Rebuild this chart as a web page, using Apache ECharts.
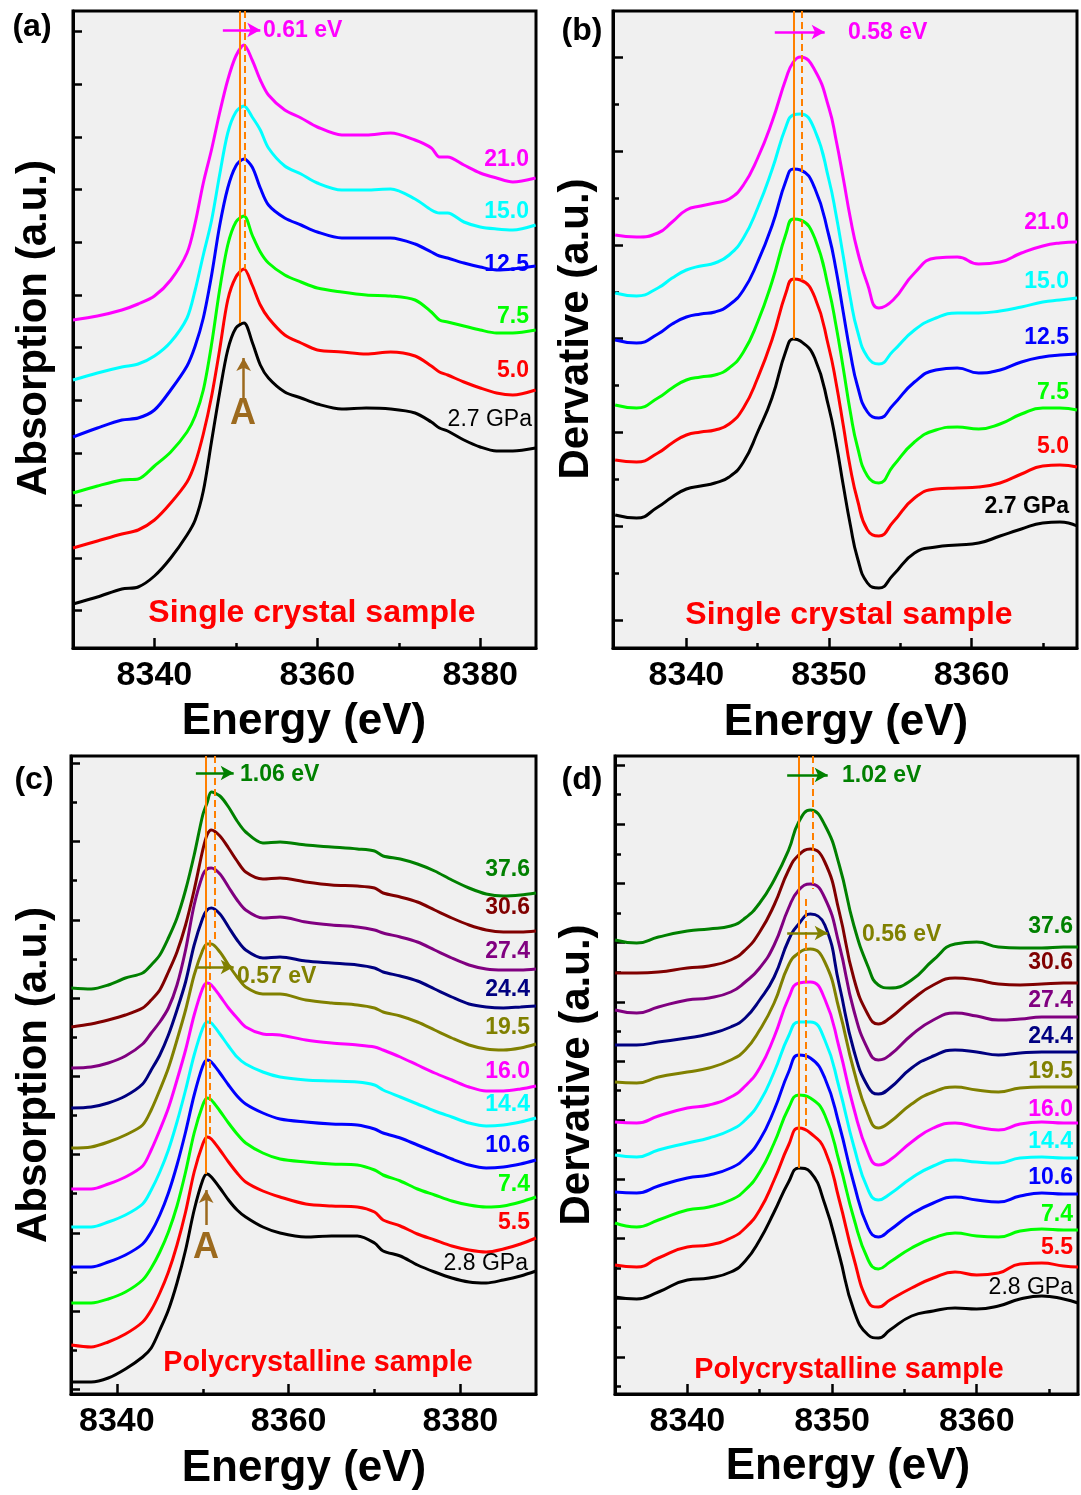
<!DOCTYPE html>
<html>
<head>
<meta charset="utf-8">
<script src="https://cdn.jsdelivr.net/npm/echarts@6/dist/echarts.min.js"></script>
<style>
html,body{margin:0;padding:0;background:#fff;}
#main{width:1081px;height:1495px;}
</style>
</head>
<body>
<div id="main"></div>
<script>
// ---------- data (a.u.) ----------

// (a) single crystal, absorption
const energyA = [8330, 8333, 8336, 8338, 8340, 8342, 8344, 8345, 8346, 8347, 8348, 8349, 8350, 8351, 8352, 8353, 8354, 8356, 8358, 8360, 8363, 8366, 8369, 8372, 8374, 8375, 8376, 8378, 8380, 8382, 8384, 8386.8];
const absA_2_7 = [4.4, 5.1, 5.9, 6.1, 7.2, 9.0, 11.3, 12.8, 15.7, 20.6, 25.5, 29.8, 32.0, 32.5, 30.6, 28.3, 27.0, 25.6, 25.0, 24.4, 23.9, 24.0, 23.9, 23.5, 22.6, 22.0, 21.7, 20.8, 20.1, 19.7, 19.7, 20.0];
const absA_5_0 = [10.0, 10.7, 11.4, 11.8, 12.8, 14.5, 16.6, 18.5, 21.4, 25.1, 29.8, 34.8, 37.1, 37.9, 36.3, 34.3, 33.0, 31.3, 30.5, 29.8, 29.6, 29.4, 29.6, 29.2, 28.2, 27.6, 27.3, 26.6, 26.0, 25.5, 25.3, 25.8];
const absA_7_5 = [15.5, 16.2, 16.8, 16.9, 18.2, 19.6, 21.6, 23.2, 25.8, 30.3, 35.8, 40.3, 42.6, 43.2, 41.3, 39.6, 38.5, 37.3, 36.6, 36.0, 35.6, 35.3, 35.2, 34.8, 33.6, 32.8, 32.6, 32.2, 31.8, 31.5, 31.5, 31.8];
const absA_12_5 = [21.1, 22.0, 22.8, 23.0, 23.8, 25.8, 28.2, 30.2, 33.0, 37.2, 42.2, 46.0, 48.2, 48.9, 48.1, 46.0, 44.3, 43.0, 42.3, 41.6, 41.0, 41.0, 41.0, 40.4, 39.6, 39.2, 39.0, 38.5, 38.1, 37.8, 37.9, 38.2];
const absA_15_0 = [26.8, 27.5, 28.1, 28.4, 29.2, 30.6, 33.0, 35.8, 39.3, 42.7, 47.3, 51.5, 53.6, 54.2, 53.1, 51.8, 50.0, 48.2, 47.4, 46.5, 45.8, 45.8, 45.9, 44.9, 43.8, 43.5, 43.5, 42.6, 42.1, 41.9, 41.8, 42.3];
const absA_21_0 = [32.8, 33.2, 33.8, 34.4, 35.2, 36.8, 39.5, 42.5, 46.5, 49.8, 53.5, 56.8, 59.2, 60.3, 58.8, 56.8, 55.3, 53.8, 53.0, 52.1, 51.3, 51.3, 51.5, 50.8, 50.0, 49.1, 49.1, 48.3, 47.5, 47.0, 46.6, 47.0];
const pressA = ['2.7 GPa', '5.0', '7.5', '12.5', '15.0', '21.0'];

// (b) single crystal, derivative
const energyB = [8335, 8336.5, 8338, 8339, 8340, 8341, 8342, 8343, 8344, 8345, 8346, 8347, 8347.5, 8348, 8349, 8350, 8350.5, 8351, 8351.5, 8352, 8352.7, 8353.5, 8354.5, 8356, 8357.5, 8359, 8360.5, 8362, 8363.5, 8365, 8366.2, 8367.4];
const derB_2_7 = [13.3, 13.0, 14.1, 15.1, 15.9, 16.2, 16.5, 17.1, 18.6, 21.6, 25.0, 29.8, 30.9, 30.7, 29.0, 24.0, 20.5, 16.3, 12.3, 9.0, 6.5, 6.0, 7.3, 9.5, 10.1, 10.3, 10.5, 11.2, 11.9, 12.5, 12.6, 12.2];
const derB_5_0 = [18.8, 18.6, 19.5, 20.5, 21.3, 21.6, 21.8, 22.4, 24.0, 27.0, 30.8, 35.6, 36.9, 36.8, 35.1, 30.0, 26.5, 22.3, 18.0, 14.8, 11.8, 11.2, 12.6, 15.0, 15.9, 16.0, 16.1, 16.5, 17.4, 18.2, 18.3, 18.1];
const derB_7_5 = [24.3, 24.0, 25.0, 26.0, 26.8, 27.1, 27.3, 28.0, 29.6, 32.6, 36.6, 41.5, 42.9, 42.8, 41.0, 35.8, 32.2, 28.0, 23.6, 20.1, 17.2, 16.5, 18.2, 20.6, 21.8, 22.1, 21.9, 22.4, 23.4, 24.0, 24.0, 23.8];
const derB_12_5 = [30.8, 30.5, 31.4, 32.4, 33.1, 33.4, 33.6, 34.3, 35.8, 38.6, 42.2, 46.8, 47.9, 47.8, 46.0, 41.2, 37.8, 33.6, 29.5, 26.2, 23.6, 23.0, 24.3, 26.6, 27.8, 28.0, 27.5, 27.8, 28.6, 29.1, 29.3, 29.4];
const derB_15_0 = [35.5, 35.2, 36.0, 37.0, 37.8, 38.2, 38.5, 39.3, 41.0, 44.0, 47.8, 52.2, 53.3, 53.4, 51.8, 46.8, 43.3, 39.2, 35.0, 31.7, 29.1, 28.4, 29.7, 31.8, 33.0, 33.5, 33.5, 33.7, 34.1, 34.6, 34.8, 35.0];
const derB_21_0 = [41.3, 41.1, 41.5, 42.6, 43.8, 44.2, 44.5, 44.9, 46.3, 49.0, 52.6, 57.0, 58.6, 59.1, 57.8, 54.0, 50.8, 47.0, 43.0, 39.7, 36.4, 34.0, 34.8, 37.5, 39.0, 39.1, 38.4, 38.6, 39.5, 40.2, 40.5, 40.6];
const pressB = ['2.7 GPa', '5.0', '7.5', '12.5', '15.0', '21.0'];

// (c) polycrystalline, absorption
const energyC = [8334.7, 8337, 8339, 8341, 8343, 8344, 8345, 8346, 8347, 8348, 8349, 8350, 8350.5, 8351, 8352, 8353, 8354, 8355, 8357, 8359, 8362, 8365, 8368, 8370, 8371, 8373, 8375, 8377, 8379, 8381, 8383, 8385, 8387, 8388.8];
const absC_2_8 = [1.2, 1.2, 1.6, 2.5, 3.7, 4.6, 6.4, 8.4, 11.1, 14.4, 18.4, 21.4, 22.0, 21.7, 20.6, 19.4, 18.4, 17.7, 16.7, 16.1, 15.7, 15.8, 15.8, 15.1, 14.3, 13.8, 12.9, 12.2, 11.6, 11.2, 11.1, 11.4, 11.8, 12.3];
const absC_5_5 = [4.9, 4.7, 5.2, 6.0, 7.2, 8.4, 10.1, 12.2, 14.9, 18.2, 22.2, 25.0, 25.7, 25.5, 24.4, 23.2, 22.1, 21.2, 20.3, 19.7, 19.0, 18.8, 18.7, 18.2, 17.4, 16.8, 16.0, 15.4, 14.8, 14.4, 14.2, 14.5, 15.0, 15.6];
const absC_7_4 = [9.1, 9.1, 9.5, 10.2, 11.4, 12.6, 14.2, 16.2, 18.8, 22.2, 26.1, 28.9, 29.6, 29.4, 28.3, 27.1, 26.0, 25.1, 24.1, 23.5, 23.2, 23.0, 22.9, 22.4, 21.9, 21.3, 20.5, 19.9, 19.3, 18.9, 18.7, 18.8, 19.2, 19.7];
const absC_10_6 = [12.7, 12.7, 13.2, 13.9, 15.0, 16.2, 17.9, 20.1, 22.9, 26.2, 29.9, 32.8, 33.4, 33.2, 32.1, 30.9, 29.8, 29.0, 28.1, 27.5, 27.2, 27.0, 26.9, 26.5, 26.1, 25.6, 24.9, 24.2, 23.5, 22.9, 22.6, 22.7, 23.0, 23.4];
const absC_14_4 = [16.7, 16.7, 17.2, 17.9, 19.0, 20.4, 22.2, 24.4, 27.2, 30.4, 33.9, 36.6, 37.2, 37.1, 36.0, 34.8, 33.7, 33.0, 32.2, 31.7, 31.4, 31.3, 31.2, 30.9, 30.4, 29.7, 29.0, 28.3, 27.7, 27.1, 26.8, 26.9, 27.2, 27.6];
const absC_16_0 = [20.5, 20.5, 21.0, 21.7, 22.8, 24.4, 26.4, 28.6, 31.4, 34.4, 37.9, 40.6, 41.1, 40.9, 39.8, 38.6, 37.6, 36.7, 36.0, 35.9, 35.4, 35.1, 34.9, 34.7, 34.4, 33.7, 32.9, 32.1, 31.4, 30.7, 30.3, 30.3, 30.5, 30.8];
const absC_19_5 = [24.6, 24.7, 25.2, 25.9, 26.9, 28.4, 30.4, 32.6, 35.4, 38.4, 41.9, 44.4, 45.0, 45.0, 44.2, 42.9, 41.7, 40.7, 40.0, 40.0, 39.4, 39.1, 38.9, 38.6, 38.2, 37.8, 37.2, 36.4, 35.6, 34.9, 34.5, 34.4, 34.6, 35.0];
const absC_24_4 = [28.6, 28.7, 29.1, 29.8, 31.0, 32.4, 33.9, 35.9, 38.4, 41.2, 44.9, 47.6, 48.4, 48.6, 48.0, 46.7, 45.4, 44.4, 43.6, 43.7, 43.3, 43.1, 42.9, 42.6, 42.2, 41.8, 41.3, 40.5, 39.7, 39.0, 38.7, 38.6, 38.7, 38.8];
const absC_27_4 = [32.6, 32.7, 33.1, 33.8, 35.0, 36.1, 37.2, 38.6, 40.9, 44.4, 48.9, 51.9, 52.5, 52.6, 52.0, 50.7, 49.4, 48.4, 47.6, 47.7, 47.2, 46.9, 46.7, 46.4, 46.1, 45.7, 45.2, 44.4, 43.6, 42.9, 42.5, 42.4, 42.4, 42.5];
const absC_30_6 = [36.7, 37.0, 37.4, 37.9, 38.6, 39.4, 40.4, 42.2, 44.2, 46.9, 50.4, 54.4, 55.9, 56.4, 55.8, 54.6, 53.3, 52.2, 51.5, 51.6, 51.2, 50.9, 50.8, 50.6, 50.1, 49.7, 49.2, 48.4, 47.6, 46.9, 46.4, 46.2, 46.2, 46.3];
const absC_37_6 = [40.6, 40.5, 40.9, 41.6, 42.1, 42.9, 43.9, 45.6, 47.6, 50.4, 53.9, 57.9, 59.1, 60.2, 59.8, 58.7, 57.3, 56.2, 55.1, 55.2, 54.9, 54.7, 54.5, 54.3, 53.8, 53.5, 53.0, 52.3, 51.4, 50.6, 50.0, 49.8, 49.9, 50.1];
const pressC = ['2.8 GPa', '5.5', '7.4', '10.6', '14.4', '16.0', '19.5', '24.4', '27.4', '30.6', '37.6'];

// (d) polycrystalline, derivative
const energyD = [8335, 8336.5, 8338, 8340, 8341.5, 8343, 8344, 8345, 8346, 8347, 8347.7, 8348.5, 8349.5, 8350.5, 8351.5, 8352.5, 8353.2, 8354, 8355.5, 8357, 8358.5, 8360, 8361.5, 8363, 8364.5, 8366, 8367];
const derD_2_8 = [9.7, 9.5, 10.2, 11.4, 11.6, 12.2, 13.3, 15.4, 18.2, 21.2, 22.6, 22.2, 19.0, 13.9, 8.4, 5.9, 5.6, 6.4, 7.8, 8.3, 8.6, 8.5, 8.8, 9.5, 9.8, 9.5, 9.1];
const derD_5_5 = [12.9, 12.7, 13.6, 14.7, 14.9, 15.6, 16.6, 18.4, 21.4, 24.9, 26.6, 26.1, 24.4, 19.4, 13.6, 9.2, 8.7, 9.4, 10.6, 11.6, 12.2, 11.9, 12.1, 13.0, 13.1, 12.8, 12.7];
const derD_7_4 = [17.1, 16.7, 17.4, 18.4, 18.7, 19.4, 20.4, 22.2, 25.1, 28.6, 29.9, 29.6, 27.9, 23.2, 17.6, 13.4, 12.5, 13.2, 14.6, 15.6, 16.1, 15.8, 15.7, 16.3, 16.5, 16.4, 16.4];
const derD_10_6 = [20.2, 20.1, 20.8, 21.6, 21.9, 22.6, 23.6, 25.4, 28.4, 32.2, 33.9, 33.6, 31.6, 26.9, 21.1, 16.6, 15.7, 16.4, 18.0, 19.1, 19.7, 19.4, 19.2, 19.8, 20.1, 20.0, 20.0];
const derD_14_4 = [23.9, 23.7, 24.4, 25.1, 25.6, 26.4, 27.4, 29.2, 32.2, 35.8, 37.2, 37.2, 35.4, 30.6, 24.8, 20.4, 19.4, 20.0, 21.6, 22.8, 23.4, 23.2, 23.1, 23.6, 23.7, 23.6, 23.6];
const derD_16_0 = [27.2, 27.1, 27.8, 28.6, 28.9, 29.7, 30.8, 32.6, 35.7, 39.6, 41.1, 41.2, 39.5, 34.6, 28.6, 24.1, 22.9, 23.4, 25.2, 26.6, 27.1, 26.7, 26.4, 27.0, 27.2, 27.1, 27.1];
const derD_19_5 = [31.2, 31.1, 31.7, 32.2, 32.6, 33.4, 34.4, 36.4, 39.1, 42.9, 44.1, 44.5, 43.2, 38.4, 32.4, 27.9, 26.6, 27.2, 29.0, 30.2, 30.7, 30.4, 30.2, 30.6, 30.7, 30.7, 30.7];
const derD_24_4 = [34.9, 34.9, 35.2, 35.6, 36.0, 36.7, 37.6, 39.4, 41.7, 45.4, 47.0, 48.0, 46.9, 40.9, 34.4, 30.7, 30.0, 30.6, 32.6, 33.8, 34.4, 34.2, 33.9, 34.1, 34.2, 34.2, 34.2];
const derD_27_4 = [38.4, 38.1, 38.7, 39.4, 39.6, 40.2, 41.2, 42.6, 44.9, 48.6, 50.4, 51.0, 49.6, 44.9, 38.4, 34.4, 33.4, 33.9, 35.9, 37.4, 38.1, 37.8, 37.4, 37.5, 37.7, 37.7, 37.7];
const derD_30_6 = [42.1, 42.1, 42.2, 42.6, 42.8, 43.4, 44.4, 46.2, 48.9, 52.4, 53.9, 54.5, 53.2, 48.2, 41.6, 37.9, 37.0, 37.6, 39.4, 40.9, 41.6, 41.4, 41.0, 40.9, 41.0, 41.1, 41.1];
const derD_37_6 = [45.4, 45.1, 45.7, 46.3, 46.5, 46.8, 47.6, 49.1, 51.4, 54.4, 57.2, 58.4, 56.9, 52.9, 46.9, 42.7, 40.9, 40.6, 41.4, 43.4, 45.0, 45.2, 44.7, 44.6, 44.6, 44.7, 44.7];
const pressD = ['2.8 GPa', '5.5', '7.4', '10.6', '14.4', '16.0', '19.5', '24.4', '27.4', '30.6', '37.6'];

// tick values
const xTicksA = [8340, 8360, 8380], xMinorA = [8350, 8370];
const xTicksB = [8340, 8350, 8360], xMinorB = [8345, 8355, 8365];
const xTicksC = [8340, 8360, 8380], xMinorC = [8350, 8370];
const xTicksD = [8340, 8350, 8360], xMinorD = [8345, 8355, 8365];
const yTicksA = [3.73, 9.0, 14.26, 19.52, 24.79, 30.05, 35.32, 40.58, 45.84, 51.11, 56.37, 61.64], yMinorA = [];
const yTicksB = [2.8, 12.2, 21.6, 31.0, 40.3, 49.7, 59.1], yMinorB = [7.5, 16.9, 26.3, 35.6, 45.0, 54.4];
const yTicksC = [0.47, 8.29, 16.12, 23.94, 31.77, 39.59, 47.42, 55.24, 63.07], yMinorC = [4.38, 12.21, 20.03, 27.86, 35.68, 43.51, 51.33, 59.16];
const yTicksD = [3.7, 9.62, 15.54, 21.46, 27.38, 33.3, 39.22, 45.14, 51.06, 56.98, 62.9], yMinorD = [0.74, 6.66, 12.58, 18.5, 24.42, 30.34, 36.26, 42.18, 48.1, 54.02, 59.94];

// edge positions (eV): solid = lowest pressure, dashed = shifted edges
const edgeA = [8350.5, 8351.1];
const edgeB = [8347.5, 8348.1];
const edgeC = [8350.3, 8351.4, 8350.85];
const edgeD = [8347.7, 8348.65, 8348.2];

// ---------- chart ----------
const FONT = '"Liberation Sans", Arial, Helvetica, sans-serif';
const chart = echarts.init(document.getElementById('main'));

const grids = [
  {left: 73, top: 11, width: 463, height: 637},
  {left: 613, top: 11, width: 464, height: 637},
  {left: 71, top: 756, width: 465, height: 638},
  {left: 615, top: 756, width: 463, height: 638}
];
const xRange = [[8330, 8386.85], [8334.85, 8367.4], [8334.66, 8388.8], [8335, 8367]];
const yMax = [63.7, 63.7, 63.8, 63.8];
const xMaj = [xTicksA, xTicksB, xTicksC, xTicksD];
const xMin = [xMinorA, xMinorB, xMinorC, xMinorD];
const yMaj = [yTicksA, yTicksB, yTicksC, yTicksD];
const yMin = [yMinorA, yMinorB, yMinorC, yMinorD];
const yMajLen = [9, 10, 9, 10];

const xAxis = [], yAxis = [];
for (let i = 0; i < 4; i++) {
  xAxis.push({
    gridIndex: i, type: 'value', position: 'bottom', min: xRange[i][0], max: xRange[i][1],
    axisLine: {show: true, onZero: false, lineStyle: {color: '#000', width: 3}},
    axisTick: {show: true, inside: true, length: 10, customValues: xMaj[i], lineStyle: {color: '#000', width: 2.5}},
    axisLabel: {show: true, customValues: xMaj[i], formatter: v => String(Math.round(v)),
      fontSize: 34, fontWeight: 'bold', color: '#000', fontFamily: FONT, margin: 11},
    splitLine: {show: false}
  });
  xAxis.push({
    gridIndex: i, type: 'value', position: 'bottom', min: xRange[i][0], max: xRange[i][1],
    axisLine: {show: false, onZero: false},
    axisTick: {show: true, inside: true, length: 5, customValues: xMin[i], lineStyle: {color: '#000', width: 2.5}},
    axisLabel: {show: false}, splitLine: {show: false}
  });
  yAxis.push({
    gridIndex: i, type: 'value', position: 'left', min: 0, max: yMax[i],
    axisLine: {show: true, onZero: false, lineStyle: {color: '#000', width: 3}},
    axisTick: {show: true, inside: true, length: yMajLen[i], customValues: yMaj[i], lineStyle: {color: '#000', width: 2.5}},
    axisLabel: {show: false}, splitLine: {show: false}
  });
  yAxis.push({
    gridIndex: i, type: 'value', position: 'left', min: 0, max: yMax[i],
    axisLine: {show: false, onZero: false},
    axisTick: {show: yMin[i].length > 0, inside: true, length: 6, customValues: yMin[i].length ? yMin[i] : [0], lineStyle: {color: '#000', width: 2.5}},
    axisLabel: {show: false}, splitLine: {show: false}
  });
}

const colors6 = ['#000000', '#ff0000', '#00ff00', '#0000ff', '#00ffff', '#ff00ff'];
const colors11 = ['#000000', '#ff0000', '#00ff00', '#0000ff', '#00ffff', '#ff00ff', '#808000', '#000080', '#800080', '#800000', '#008000'];

function curve(panel, xs, ys, color, smooth) {
  return {
    type: 'line', xAxisIndex: panel * 2, yAxisIndex: panel * 2,
    data: xs.map((x, i) => [x, ys[i]]),
    showSymbol: false, symbol: 'none', smooth: smooth,
    lineStyle: {color: color, width: 3}, itemStyle: {color: color},
    silent: true, animation: false, z: 2
  };
}

const series = [];
[absA_2_7, absA_5_0, absA_7_5, absA_12_5, absA_15_0, absA_21_0].forEach((ys, k) => series.push(curve(0, energyA, ys, colors6[k], 0.3)));
[derB_2_7, derB_5_0, derB_7_5, derB_12_5, derB_15_0, derB_21_0].forEach((ys, k) => series.push(curve(1, energyB, ys, colors6[k], 0.5)));
[absC_2_8, absC_5_5, absC_7_4, absC_10_6, absC_14_4, absC_16_0, absC_19_5, absC_24_4, absC_27_4, absC_30_6, absC_37_6].forEach((ys, k) => series.push(curve(2, energyC, ys, colors11[k], 0.3)));
[derD_2_8, derD_5_5, derD_7_4, derD_10_6, derD_14_4, derD_16_0, derD_19_5, derD_24_4, derD_27_4, derD_30_6, derD_37_6].forEach((ys, k) => series.push(curve(3, energyD, ys, colors11[k], 0.5)));

// annotation lines
const ORANGE = '#ff8000';
function vline(x, y1, y2, dashed) {
  const ls = {color: ORANGE, width: 2, type: dashed ? [7, 4] : 'solid'};
  return [{coord: [x, y1], symbol: 'none', lineStyle: ls}, {coord: [x, y2], symbol: 'none', lineStyle: ls}];
}
function arrow(x1, y1, x2, y2, color) {
  const ls = {color: color, width: 2.5, type: 'solid'};
  return [{coord: [x1, y1], symbol: 'none', lineStyle: ls}, {coord: [x2, y2], symbol: 'arrow', symbolSize: [11, 13], lineStyle: ls}];
}
function annot(panel, lines) {
  return {
    type: 'line', xAxisIndex: panel * 2, yAxisIndex: panel * 2, data: [], silent: true, animation: false, z: 5,
    markLine: {silent: true, animation: false, symbol: ['none', 'none'], label: {show: false}, emphasis: {disabled: true}, data: lines}
  };
}
const BROWN = '#9c6a1e';
series.push(annot(0, [
  vline(edgeA[0], 63.7, absA_2_7[13], false),
  vline(edgeA[1], 63.7, absA_5_0[13], true),
  arrow(8348.4, 61.8, 8353.0, 61.8, '#ff00ff'),
  arrow(8350.95, 25.0, 8350.95, 29.0, BROWN)
]));
series.push(annot(1, [
  vline(edgeB[0], 63.7, derB_2_7[12], false),
  vline(edgeB[1], 63.7, derB_5_0[13], true),
  arrow(8346.2, 61.6, 8349.7, 61.6, '#ff00ff')
]));
series.push(annot(2, [
  vline(edgeC[0], 63.8, absC_2_8[12], false),
  vline(edgeC[1], 63.8, 45.4, true),
  vline(edgeC[2], 45.4, absC_5_5[12], true),
  arrow(8349.2, 62.1, 8353.6, 62.1, '#008000'),
  arrow(8349.2, 42.7, 8353.6, 42.7, '#808000'),
  arrow(8350.4, 16.9, 8350.4, 20.4, BROWN)
]));
series.push(annot(3, [
  vline(edgeD[0], 63.8, derD_2_8[10], false),
  vline(edgeD[1], 63.8, 50.5, true),
  vline(edgeD[2], 49.5, derD_5_5[10], true),
  arrow(8346.9, 61.9, 8349.7, 61.9, '#008000'),
  arrow(8346.9, 46.1, 8349.7, 46.1, '#808000')
]));

// texts
function txt(x, y, text, size, color, align, weight, rot) {
  return {
    type: 'text', x: x, y: y, rotation: rot || 0, z: 20, silent: true,
    style: {text: text, fontSize: size, fontWeight: weight || 'bold', fontFamily: FONT, fill: color || '#000',
      textAlign: align || 'center', align: align || 'center', textVerticalAlign: 'middle', verticalAlign: 'middle'}
  };
}
const graphics = [
  txt(32, 27, '(a)', 32), txt(582, 31, '(b)', 32), txt(34, 780, '(c)', 32), txt(582, 780, '(d)', 32),
  txt(304, 722, 'Energy (eV)', 44), txt(846, 723, 'Energy (eV)', 44),
  txt(304, 1469, 'Energy (eV)', 44), txt(848, 1467, 'Energy (eV)', 44),
  txt(34, 328, 'Absorption (a.u.)', 42, '#000', 'center', 'bold', Math.PI / 2),
  txt(576, 329, 'Dervative (a.u.)', 42, '#000', 'center', 'bold', Math.PI / 2),
  txt(34, 1075, 'Absorption (a.u.)', 42, '#000', 'center', 'bold', Math.PI / 2),
  txt(577, 1075, 'Dervative (a.u.)', 42, '#000', 'center', 'bold', Math.PI / 2),
  txt(312, 613, 'Single crystal sample', 32, '#ff0000'),
  txt(849, 615, 'Single crystal sample', 32, '#ff0000'),
  txt(318, 1363, 'Polycrystalline sample', 28.7, '#ff0000'),
  txt(849, 1370, 'Polycrystalline sample', 28.7, '#ff0000'),
  txt(263, 31, '0.61 eV', 23, '#ff00ff', 'left'),
  txt(848, 33, '0.58 eV', 23, '#ff00ff', 'left'),
  txt(240, 775, '1.06 eV', 23, '#008000', 'left'),
  txt(237, 977, '0.57 eV', 23, '#808000', 'left'),
  txt(842, 776, '1.02 eV', 23, '#008000', 'left'),
  txt(862, 935, '0.56 eV', 23, '#808000', 'left'),
  txt(243, 414, 'A', 36, BROWN),
  txt(206, 1248, 'A', 36, BROWN)
];
// pressure labels
const labYA = [420, 371, 317, 265, 212, 160];
const labYB = [507, 447, 393, 338, 282, 223];
const labYC = [1264, 1223, 1185, 1146, 1105, 1072, 1028, 990, 952, 908, 870];
const labYD = [1288, 1248, 1215, 1178, 1142, 1110, 1072, 1037, 1001, 963, 927];
pressA.forEach((p, k) => graphics.push(txt(k ? 529 : 532, labYA[k], p, 23, colors6[k], 'right', k ? 'bold' : 'normal')));
pressB.forEach((p, k) => graphics.push(txt(1069, labYB[k], p, 23, colors6[k], 'right', 'bold')));
pressC.forEach((p, k) => graphics.push(txt(k ? 530 : 528, labYC[k], p, 23, colors11[k], 'right', k ? 'bold' : 'normal')));
pressD.forEach((p, k) => graphics.push(txt(1073, labYD[k], p, 23, colors11[k], 'right', k ? 'bold' : 'normal')));

chart.setOption({
  backgroundColor: '#ffffff',
  animation: false,
  grid: grids.map(g => Object.assign({show: true, backgroundColor: '#f0f0f0', borderColor: '#000', borderWidth: 3, containLabel: false, outerBoundsMode: 'none'}, g)),
  xAxis: xAxis,
  yAxis: yAxis,
  series: series,
  graphic: {elements: graphics}
});

window.addEventListener('resize', () => chart.resize());
</script>
</body>
</html>
